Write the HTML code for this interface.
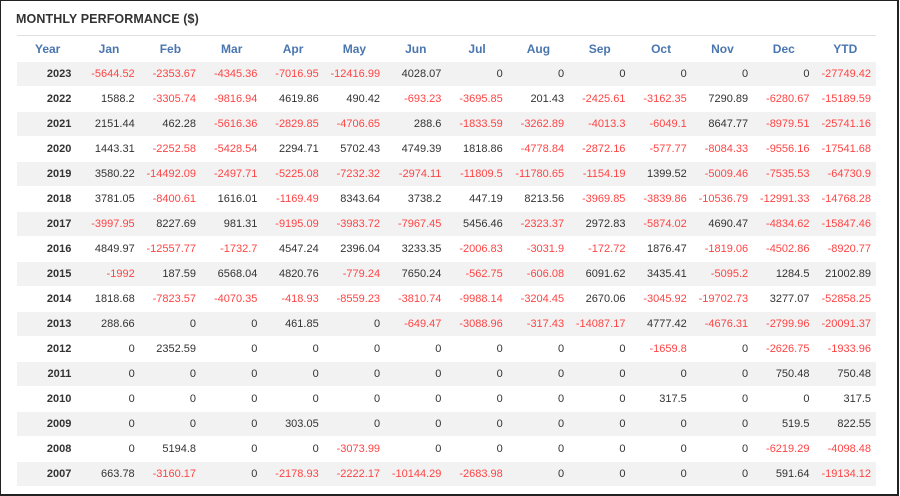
<!DOCTYPE html>
<html><head><meta charset="utf-8">
<style>
html,body{margin:0;padding:0;background:#fff;}
#frame{position:absolute;left:0;top:0;width:896px;height:493px;border:1px solid #222;border-right:2px solid #222;border-bottom:2px solid #222;background:#fff;overflow:hidden;}
#title{position:absolute;left:15px;top:11px;font:bold 12.5px "Liberation Sans",sans-serif;color:#333;letter-spacing:0.1px;}
#rule{position:absolute;left:16px;top:34px;width:859px;height:1px;background:#e0e0e0;}
table{position:absolute;left:16px;top:35px;width:859px;border-collapse:collapse;table-layout:fixed;font:11px "Liberation Sans",sans-serif;color:#333;}
th{height:25px;color:#4a76b0;font-weight:bold;font-size:12px;text-align:center;padding:0;}
td{height:24px;line-height:24px;padding:0 5px 0 0;text-align:right;border-top:1px solid #fff;box-sizing:content-box;}
td.y{font-weight:bold;color:#333;padding-right:7px;}
tr.odd td{background:#f2f2f2;}
td.neg{color:#f44;}
</style></head><body>
<div id="frame">
<div id="title">MONTHLY PERFORMANCE ($)</div>
<div id="rule"></div>
<table id="tbl">
<thead><tr id="hdr"></tr></thead>
<tbody id="body"></tbody>
</table>
</div>
<script>
const columns=["Year","Jan","Feb","Mar","Apr","May","Jun","Jul","Aug","Sep","Oct","Nov","Dec","YTD"];
const years=["2023","2022","2021","2020","2019","2018","2017","2016","2015","2014","2013","2012","2011","2010","2009","2008","2007"];
const r2023=["-5644.52","-2353.67","-4345.36","-7016.95","-12416.99","4028.07","0","0","0","0","0","0","-27749.42"];
const r2022=["1588.2","-3305.74","-9816.94","4619.86","490.42","-693.23","-3695.85","201.43","-2425.61","-3162.35","7290.89","-6280.67","-15189.59"];
const r2021=["2151.44","462.28","-5616.36","-2829.85","-4706.65","288.6","-1833.59","-3262.89","-4013.3","-6049.1","8647.77","-8979.51","-25741.16"];
const r2020=["1443.31","-2252.58","-5428.54","2294.71","5702.43","4749.39","1818.86","-4778.84","-2872.16","-577.77","-8084.33","-9556.16","-17541.68"];
const r2019=["3580.22","-14492.09","-2497.71","-5225.08","-7232.32","-2974.11","-11809.5","-11780.65","-1154.19","1399.52","-5009.46","-7535.53","-64730.9"];
const r2018=["3781.05","-8400.61","1616.01","-1169.49","8343.64","3738.2","447.19","8213.56","-3969.85","-3839.86","-10536.79","-12991.33","-14768.28"];
const r2017=["-3997.95","8227.69","981.31","-9195.09","-3983.72","-7967.45","5456.46","-2323.37","2972.83","-5874.02","4690.47","-4834.62","-15847.46"];
const r2016=["4849.97","-12557.77","-1732.7","4547.24","2396.04","3233.35","-2006.83","-3031.9","-172.72","1876.47","-1819.06","-4502.86","-8920.77"];
const r2015=["-1992","187.59","6568.04","4820.76","-779.24","7650.24","-562.75","-606.08","6091.62","3435.41","-5095.2","1284.5","21002.89"];
const r2014=["1818.68","-7823.57","-4070.35","-418.93","-8559.23","-3810.74","-9988.14","-3204.45","2670.06","-3045.92","-19702.73","3277.07","-52858.25"];
const r2013=["288.66","0","0","461.85","0","-649.47","-3088.96","-317.43","-14087.17","4777.42","-4676.31","-2799.96","-20091.37"];
const r2012=["0","2352.59","0","0","0","0","0","0","0","-1659.8","0","-2626.75","-1933.96"];
const r2011=["0","0","0","0","0","0","0","0","0","0","0","750.48","750.48"];
const r2010=["0","0","0","0","0","0","0","0","0","317.5","0","0","317.5"];
const r2009=["0","0","0","303.05","0","0","0","0","0","0","0","519.5","822.55"];
const r2008=["0","5194.8","0","0","-3073.99","0","0","0","0","0","0","-6219.29","-4098.48"];
const r2007=["663.78","-3160.17","0","-2178.93","-2222.17","-10144.29","-2683.98","0","0","0","0","591.64","-19134.12"];
const rows=[r2023,r2022,r2021,r2020,r2019,r2018,r2017,r2016,r2015,r2014,r2013,r2012,r2011,r2010,r2009,r2008,r2007];

const hdr=document.getElementById('hdr');
columns.forEach(c=>{
  const th=document.createElement('th');
  th.textContent=c;
  
  
  hdr.appendChild(th);
});
const body=document.getElementById('body');
years.forEach((y,i)=>{
  const tr=document.createElement('tr');
  if(i%2===0) tr.className='odd';
  
  
  const yc=document.createElement('td');
  yc.className='y';
  yc.textContent=y;
  
  
  tr.appendChild(yc);
  rows[i].forEach((v,j)=>{
    const td=document.createElement('td');
    td.textContent=v;
    if(parseFloat(v)<0) td.className='neg';
    
    
    tr.appendChild(td);
  });
  body.appendChild(tr);
});
</script>
</body></html>
